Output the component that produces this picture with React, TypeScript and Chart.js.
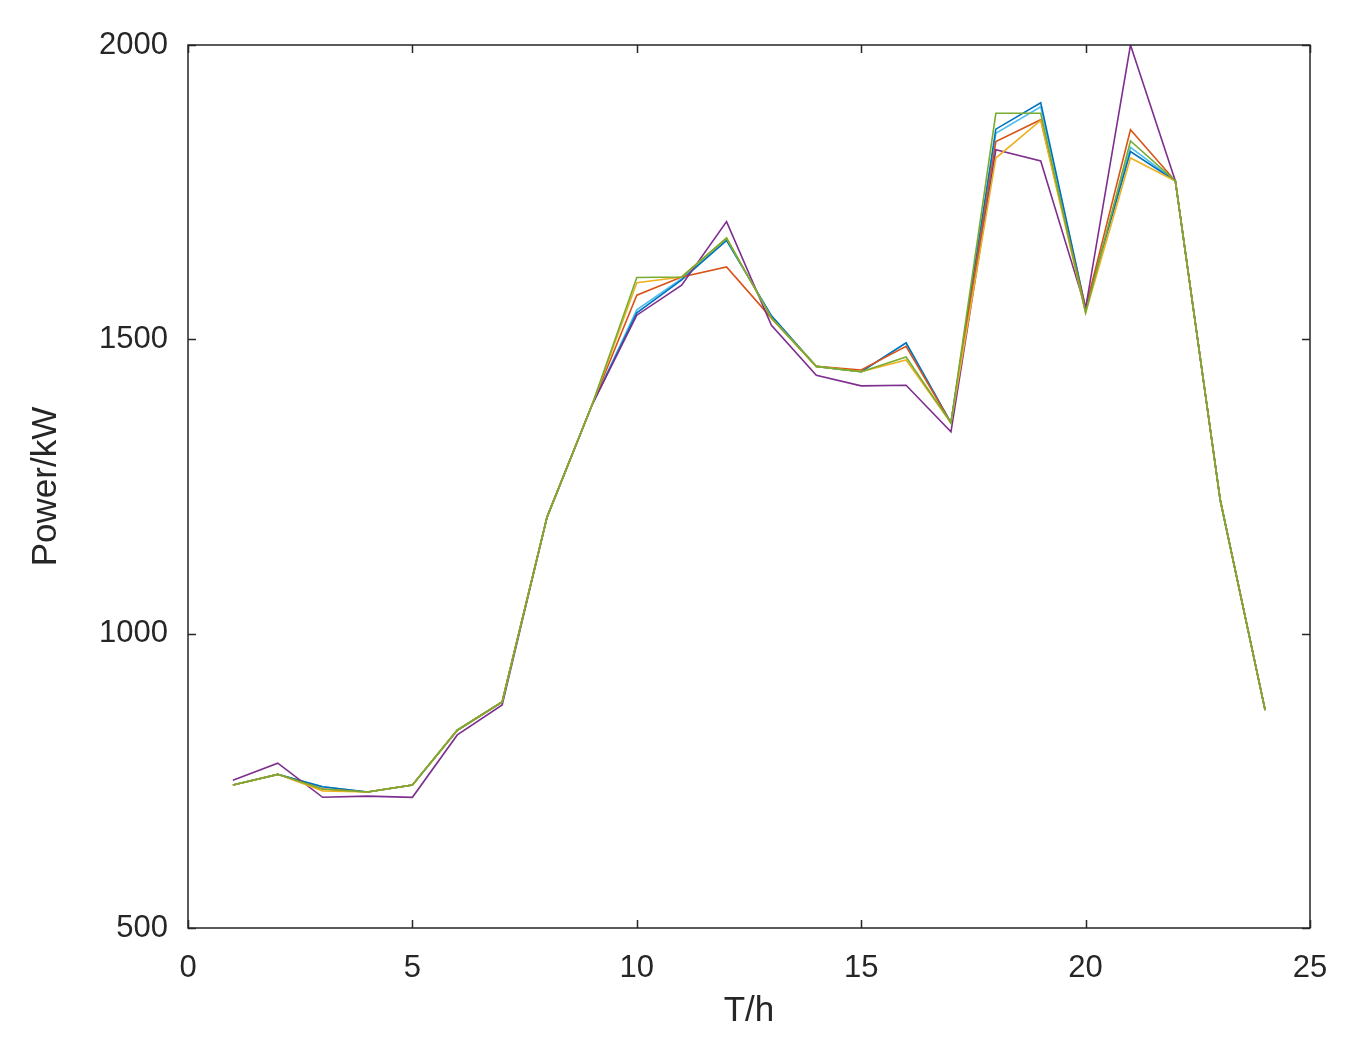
import React, { useEffect, useRef } from "react";
import { Chart, registerables } from "chart.js";

Chart.register(...registerables);

const hours = [1, 2, 3, 4, 5, 6, 7, 8, 9, 10, 11, 12, 13, 14, 15, 16, 17, 18, 19, 20, 21, 22, 23, 24];

const seriesBlue = [743, 761, 740, 731, 743, 836, 884, 1198, 1388, 1545, 1601, 1668, 1540, 1454, 1445, 1494, 1358, 1857, 1902, 1553, 1819, 1769, 1227, 870];
const seriesOrange = [743, 761, 736, 731, 743, 836, 884, 1198, 1388, 1575, 1606, 1623, 1536, 1454, 1448, 1488, 1358, 1836, 1873, 1553, 1856, 1769, 1227, 870];
const seriesYellow = [743, 761, 733, 731, 743, 836, 884, 1198, 1388, 1596, 1606, 1672, 1536, 1454, 1445, 1465, 1358, 1808, 1872, 1545, 1808, 1769, 1227, 870];
const seriesPurple = [751, 780, 722, 724, 722, 828, 879, 1198, 1388, 1541, 1592, 1700, 1524, 1439, 1421, 1422, 1343, 1822, 1803, 1553, 2000, 1769, 1227, 870];
const seriesGreen = [743, 761, 736, 731, 743, 836, 884, 1198, 1388, 1605, 1606, 1672, 1536, 1454, 1445, 1470, 1358, 1884, 1884, 1545, 1837, 1769, 1227, 870];
const seriesCyan = [743, 761, 740, 731, 743, 836, 884, 1198, 1388, 1550, 1603, 1668, 1540, 1454, 1445, 1494, 1358, 1850, 1895, 1553, 1826, 1769, 1227, 870];

const xTicks = [0, 5, 10, 15, 20, 25];
const yTicks = [500, 1000, 1500, 2000];

const colors = ["#0072BD", "#D95319", "#EDB120", "#7E2F8E", "#77AC30", "#4DBEEE"];
const allSeries = [seriesBlue, seriesOrange, seriesYellow, seriesPurple, seriesGreen, seriesCyan];
// draw order (lower = on top)
const drawOrder = [4, 3, 1, 2, 0, 5];

const AXIS_COLOR = "#262626";
const FONT = "Liberation Sans, Arial, sans-serif";

const boxPlugin = {
  id: "matlabBox",
  afterDraw(chart: any) {
    const { ctx, chartArea } = chart;
    const { left, right, top, bottom } = chartArea;
    const xs = chart.scales.x;
    const ys = chart.scales.y;
    ctx.save();
    ctx.strokeStyle = AXIS_COLOR;
    ctx.lineWidth = 1.5;
    ctx.strokeRect(left, top, right - left, bottom - top);
    const tl = 8;
    ctx.beginPath();
    xTicks.forEach((t) => {
      const px = Math.round(xs.getPixelForValue(t)) + 0.5;
      ctx.moveTo(px, bottom);
      ctx.lineTo(px, bottom - tl);
      ctx.moveTo(px, top);
      ctx.lineTo(px, top + tl);
    });
    yTicks.forEach((t) => {
      const py = Math.round(ys.getPixelForValue(t)) + 0.5;
      ctx.moveTo(left, py);
      ctx.lineTo(left + tl, py);
      ctx.moveTo(right, py);
      ctx.lineTo(right - tl, py);
    });
    ctx.stroke();
    ctx.restore();
  },
};

export default function App() {
  const ref = useRef<HTMLCanvasElement | null>(null);
  useEffect(() => {
    document.body.style.margin = "0";
    const canvas = ref.current;
    if (!canvas) return;
    const chart = new Chart(canvas, {
      type: "line",
      data: {
        datasets: allSeries.map((s, i) => ({
          label: "S" + (i + 1),
          data: hours.map((h, j) => ({ x: h, y: s[j] })),
          borderColor: colors[i],
          backgroundColor: colors[i],
          borderWidth: 1.6,
          pointRadius: 0,
          tension: 0,
          fill: false,
          order: drawOrder[i],
        })),
      },
      options: {
        responsive: false,
        animation: false,
        layout: { padding: { top: 45, right: 45, left: 0, bottom: 0 } },
        plugins: {
          legend: { display: false },
          tooltip: { enabled: false },
        },
        scales: {
          x: {
            type: "linear",
            min: 0,
            max: 25,
            afterFit(scale: any) {
              scale.height = 118;
            },
            afterBuildTicks(scale: any) {
              scale.ticks = xTicks.map((v) => ({ value: v }));
            },
            grid: { display: false, drawTicks: false },
            border: { display: false },
            ticks: {
              color: AXIS_COLOR,
              font: { family: FONT, size: 31 },
              padding: 22,
              maxRotation: 0,
              autoSkip: false,
              callback: (v: any) => String(v),
            },
            title: {
              display: true,
              text: "T/h",
              color: AXIS_COLOR,
              font: { family: FONT, size: 35 },
              padding: { top: 0, bottom: 14 },
            },
          },
          y: {
            type: "linear",
            min: 500,
            max: 2000,
            afterFit(scale: any) {
              scale.width = 188;
            },
            afterBuildTicks(scale: any) {
              scale.ticks = yTicks.map((v) => ({ value: v }));
            },
            grid: { display: false, drawTicks: false },
            border: { display: false },
            ticks: {
              color: AXIS_COLOR,
              font: { family: FONT, size: 31 },
              padding: 20,
              autoSkip: false,
              callback: (v: any) => String(v),
            },
            title: {
              display: true,
              text: "Power/kW",
              color: AXIS_COLOR,
              font: { family: FONT, size: 35 },
              padding: { top: 25, bottom: 0 },
            },
          },
        },
      },
      plugins: [boxPlugin],
    });
    return () => chart.destroy();
  }, []);
  return (
    <div style={{ width: 1355, height: 1046, background: "#ffffff" }}>
      <canvas ref={ref} width={1355} height={1046} />
    </div>
  );
}
